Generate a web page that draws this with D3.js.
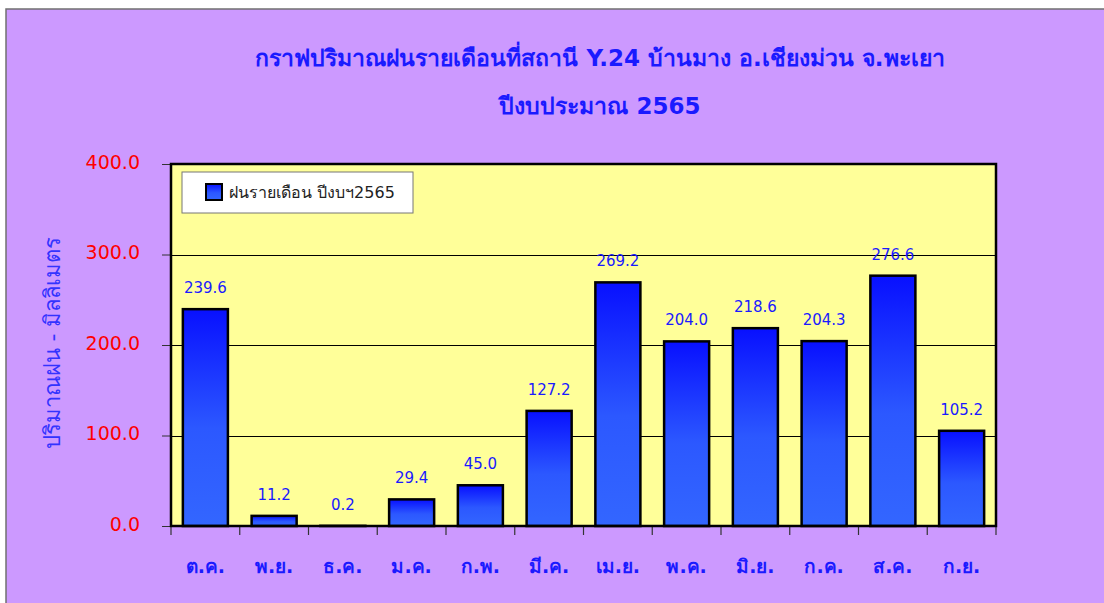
<!DOCTYPE html>
<html lang="th">
<head>
<meta charset="UTF-8" />
<title>กราฟปริมาณฝนรายเดือน Y.24</title>
<script src="https://d3js.org/d3.v7.min.js"></script>
<style>
    body { margin: 0; background: #fff; }
    text { font-family: "DejaVu Sans", "Noto Sans", sans-serif; }
</style>
</head>
<body>
<svg width="1104" height="603"></svg>
<script>
    // data
    const months = ["ต.ค.", "พ.ย.", "ธ.ค.", "ม.ค.", "ก.พ.", "มี.ค.", "เม.ย.", "พ.ค.", "มิ.ย.", "ก.ค.", "ส.ค.", "ก.ย."];
    const rain = [239.6, 11.2, 0.2, 29.4, 45.0, 127.2, 269.2, 204.0, 218.6, 204.3, 276.6, 105.2];
    const yTicks = [0, 100, 200, 300, 400];
    const titleLines = ["กราฟปริมาณฝนรายเดือนที่สถานี Y.24 บ้านมาง อ.เชียงม่วน จ.พะเยา", "ปีงบประมาณ 2565"];
    const legendLabel = "ฝนรายเดือน ปีงบฯ2565";
    const yTitle = "ปริมาณฝน - มิลลิเมตร";

    const svg = d3.select("svg");
    const plot = { left: 171, right: 996, top: 164, bottom: 526 };

    // outer chart area
    svg.append("rect")
        .attr("x", 6).attr("y", 9)
        .attr("width", 1110).attr("height", 610)
        .attr("fill", "#cc99ff")
        .attr("stroke", "#707070")
        .attr("stroke-width", 1.5);

    const defs = svg.append("defs");
    const grad = defs.append("linearGradient")
        .attr("id", "barGrad")
        .attr("x1", 0).attr("y1", 0).attr("x2", 0).attr("y2", 1);
    grad.append("stop").attr("offset", "0%").attr("stop-color", "#0810ff");
    grad.append("stop").attr("offset", "55%").attr("stop-color", "#2c58ff");
    grad.append("stop").attr("offset", "100%").attr("stop-color", "#3366ff");

    const x = d3.scaleBand()
        .domain(months)
        .range([plot.left, plot.right])
        .paddingInner(0.345)
        .paddingOuter(0.1725);

    const y = d3.scaleLinear()
        .domain([0, 400])
        .range([plot.bottom, plot.top]);

    // plot background
    svg.append("rect")
        .attr("x", plot.left).attr("y", plot.top)
        .attr("width", plot.right - plot.left)
        .attr("height", plot.bottom - plot.top)
        .attr("fill", "#ffff99");

    // gridlines
    svg.append("g")
        .selectAll("line")
        .data(yTicks.slice(1, -1))
        .join("line")
        .attr("x1", plot.left).attr("x2", plot.right)
        .attr("y1", d => Math.round(y(d)) + 0.5)
        .attr("y2", d => Math.round(y(d)) + 0.5)
        .attr("stroke", "#000")
        .attr("stroke-width", 1);

    // y axis
    const yAxis = svg.append("g")
        .attr("transform", `translate(${plot.left},0)`)
        .call(d3.axisLeft(y).tickValues(yTicks).tickSize(9).tickPadding(22).tickFormat(d3.format(".1f")));
    yAxis.select(".domain").remove();
    yAxis.selectAll(".tick line").attr("stroke", "#333");
    yAxis.selectAll(".tick text")
        .attr("fill", "#ff0000")
        .attr("font-size", 19)
        .attr("dy", "0.22em");

    // x axis
    const xAxis = svg.append("g")
        .attr("transform", `translate(0,${plot.bottom})`)
        .call(d3.axisBottom(x).tickSize(0).tickPadding(34));
    xAxis.select(".domain").remove();
    xAxis.selectAll(".tick text")
        .attr("fill", "#1a1aff")
        .attr("font-size", 19)
        .attr("font-weight", "bold");

    // category boundary ticks
    svg.append("g")
        .selectAll("line")
        .data(d3.range(months.length + 1))
        .join("line")
        .attr("x1", i => x.range()[0] + i * x.step())
        .attr("x2", i => x.range()[0] + i * x.step())
        .attr("y1", plot.bottom)
        .attr("y2", plot.bottom + 9)
        .attr("stroke", "#333")
        .attr("stroke-width", 1.2);

    // bars
    svg.append("g")
        .selectAll("rect")
        .data(rain)
        .join("rect")
        .attr("x", (d, i) => x(months[i]))
        .attr("y", d => y(d))
        .attr("width", x.bandwidth())
        .attr("height", d => y(0) - y(d))
        .attr("fill", "url(#barGrad)")
        .attr("stroke", "#000")
        .attr("stroke-width", 2.5);

    // value labels
    svg.append("g")
        .selectAll("text")
        .data(rain)
        .join("text")
        .attr("x", (d, i) => x(months[i]) + x.bandwidth() / 2)
        .attr("y", d => y(d) - 16)
        .attr("text-anchor", "middle")
        .attr("fill", "#1a1aff")
        .attr("font-size", 15)
        .text(d => d.toFixed(1));

    // plot frame
    svg.append("path")
        .attr("d", `M${plot.left},${plot.bottom}V${plot.top}H${plot.right}V${plot.bottom}Z`)
        .attr("fill", "none")
        .attr("stroke", "#000")
        .attr("stroke-width", 2.5);

    // legend
    const lg = svg.append("g");
    lg.append("rect")
        .attr("x", 182).attr("y", 172)
        .attr("width", 231).attr("height", 41)
        .attr("fill", "#fff")
        .attr("stroke", "#777")
        .attr("stroke-width", 1);
    lg.append("rect")
        .attr("x", 206).attr("y", 184)
        .attr("width", 16).attr("height", 16)
        .attr("fill", "url(#barGrad)")
        .attr("stroke", "#000")
        .attr("stroke-width", 2);
    lg.append("text")
        .attr("x", 229).attr("y", 198)
        .attr("fill", "#222")
        .attr("font-size", 16)
        .text(legendLabel);

    // titles
    svg.append("g")
        .selectAll("text")
        .data(titleLines)
        .join("text")
        .attr("x", 600)
        .attr("y", (d, i) => 66 + i * 48)
        .attr("text-anchor", "middle")
        .attr("fill", "#1a1aff")
        .attr("font-size", 23)
        .attr("font-weight", "bold")
        .text(d => d);

    svg.append("text")
        .attr("transform", "translate(60,343) rotate(-90)")
        .attr("text-anchor", "middle")
        .attr("fill", "#3333ff")
        .attr("font-size", 22)
        .text(yTitle);
</script>
</body>
</html>
